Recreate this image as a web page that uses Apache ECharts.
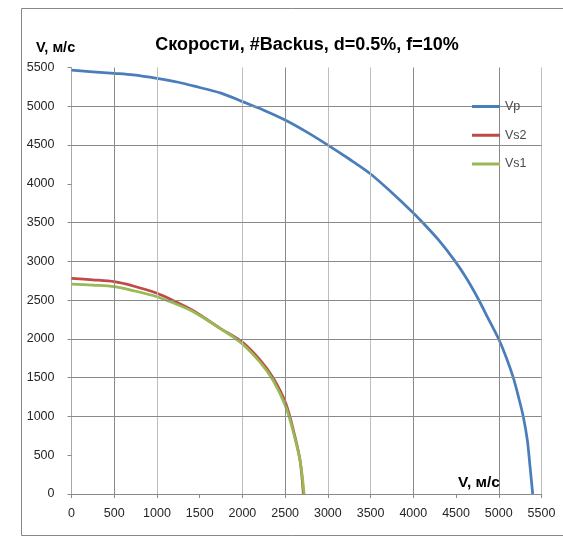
<!DOCTYPE html>
<html>
<head>
<meta charset="utf-8">
<script src="https://cdn.jsdelivr.net/npm/echarts@6/dist/echarts.min.js"></script>
<style>
html,body{margin:0;padding:0;background:#fff;}
#chart{width:563px;height:537px;}
</style>
</head>
<body>
<div id="chart"></div>
<script>
// ---- Data ----
const titleText = 'Скорости, #Backus, d=0.5%, f=10%';
const axisNameText = 'V, м/с';
const seriesNames = ['Vp', 'Vs2', 'Vs1'];

const vpX = [0, 250, 500, 720, 1000, 1250, 1425, 1750, 2000, 2250, 2500, 2750, 3000, 3250, 3500, 3750, 4000, 4120, 4300, 4490, 4620, 4760, 4880, 5000, 5090, 5170, 5230, 5287, 5334, 5366, 5397];
const vpY = [5465, 5445, 5425, 5405, 5360, 5310, 5262, 5170, 5060, 4950, 4823, 4670, 4500, 4320, 4127, 3885, 3625, 3488, 3270, 3000, 2785, 2515, 2255, 1995, 1755, 1500, 1255, 997, 696, 352, 0];

const vs2X = [0, 250, 500, 723, 1000, 1200, 1425, 1738, 1992, 2206, 2362, 2507, 2596, 2674, 2713];
const vs2Y = [2781, 2762, 2738, 2682, 2588, 2490, 2364, 2137, 1964, 1728, 1492, 1170, 825, 438, 0];

const vs1X = [0, 250, 500, 723, 1000, 1200, 1425, 1738, 1992, 2206, 2362, 2507, 2600, 2680, 2722];
const vs1Y = [2708, 2693, 2673, 2622, 2544, 2460, 2351, 2137, 1943, 1700, 1461, 1126, 782, 396, 0];

const xTicks = [0, 500, 1000, 1500, 2000, 2500, 3000, 3500, 4000, 4500, 5000, 5500];
const yTicks = [0, 500, 1000, 1500, 2000, 2500, 3000, 3500, 4000, 4500, 5000, 5500];

// grid lines that are visible in the reference (value, shade)
const xGridVals = [500, 1000, 2000, 2500, 3000, 3500, 4000, 5000, 5500];
const xGridShade = ['d', 'l', 'l', 'd', 'l', 'l', 'd', 'd', 'l'];
const yGridVals = [1000, 1500, 2000, 2500, 3000, 3500, 4500, 5000];
const yGridShade = ['d', 'd', 'd', 'd', 'd', 'd', 'd', 'd'];

// ---- Build ----
function pairs(xs, ys) { return xs.map((x, i) => [x, ys[i]]); }
const shadeColor = {d: '#8a8a8a', l: '#bdbdbd'};

const gridLines = []
  .concat(xGridVals.map((v, i) => ({xAxis: v, lineStyle: {color: shadeColor[xGridShade[i]]}})))
  .concat(yGridVals.map((v, i) => ({yAxis: v, lineStyle: {color: shadeColor[yGridShade[i]]}})));

const colors = ['#4a7ebb', '#be4b48', '#98b954'];
const fontFam = '"Liberation Sans", Arial, sans-serif';

const chart = echarts.init(document.getElementById('chart'), null, {renderer: 'canvas'});
chart.setOption({
  animation: false,
  backgroundColor: '#ffffff',
  title: [
    {text: titleText, left: 307, top: 36, textAlign: 'center', padding: 0,
     textStyle: {fontFamily: fontFam, fontSize: 18, fontWeight: 'bold', color: '#000'}},
    {text: axisNameText, left: 36, top: 40, padding: 0,
     textStyle: {fontFamily: fontFam, fontSize: 14.5, fontWeight: 'bold', color: '#000'}},
    {text: axisNameText, left: 458, top: 475, padding: 0,
     textStyle: {fontFamily: fontFam, fontSize: 15.5, fontWeight: 'bold', color: '#000'}}
  ],
  graphic: [{
    type: 'rect', silent: true, z: -1,
    shape: {x: 21.5, y: 8.5, width: 560, height: 527},
    style: {fill: 'none', stroke: '#888', lineWidth: 1}
  }],
  legend: {
    orient: 'vertical', left: 472, top: 100, padding: 0, z: 20,
    itemWidth: 28, itemHeight: 3, itemGap: 15.75, icon: 'rect',
    data: seriesNames,
    textStyle: {fontFamily: fontFam, fontSize: 12.5, color: '#4a4a4a'}
  },
  grid: {left: 71.5, right: 21.5, top: 67.5, bottom: 43, containLabel: false},
  xAxis: {
    type: 'value', min: xTicks[0], max: xTicks[xTicks.length - 1], interval: 500,
    axisLine: {show: true, onZero: false, lineStyle: {color: '#8a8a8a', width: 1}},
    axisTick: {show: true, inside: false, length: 4, lineStyle: {color: '#8a8a8a'}},
    axisLabel: {margin: 13, fontFamily: fontFam, fontSize: 12.5, color: '#262626',
                formatter: v => String(v)},
    splitLine: {show: false}
  },
  yAxis: {
    type: 'value', min: yTicks[0], max: yTicks[yTicks.length - 1], interval: 500,
    axisLine: {show: true, onZero: false, lineStyle: {color: '#a8a8a8', width: 1}},
    axisTick: {show: true, inside: false, length: 4, lineStyle: {color: '#8a8a8a'}},
    axisLabel: {margin: 17, fontFamily: fontFam, fontSize: 12.5, color: '#262626',
                formatter: v => String(v)},
    splitLine: {show: false}
  },
  series: [
    {name: 'grid', type: 'line', data: [], z: 1, silent: true,
     markLine: {silent: true, symbol: ['none', 'none'], label: {show: false},
                lineStyle: {type: 'solid', width: 1}, emphasis: {disabled: true},
                animation: false, data: gridLines}},
    {name: seriesNames[0], type: 'line', data: pairs(vpX, vpY), symbol: 'none', showSymbol: false,
     smooth: 0.3, z: 3, color: colors[0], lineStyle: {width: 2.75, color: colors[0]}},
    {name: seriesNames[1], type: 'line', data: pairs(vs2X, vs2Y), symbol: 'none', showSymbol: false,
     smooth: 0.3, z: 3, color: colors[1], lineStyle: {width: 2.75, color: colors[1]}},
    {name: seriesNames[2], type: 'line', data: pairs(vs1X, vs1Y), symbol: 'none', showSymbol: false,
     smooth: 0.3, z: 3, color: colors[2], lineStyle: {width: 2.75, color: colors[2]}}
  ]
});
</script>
</body>
</html>
